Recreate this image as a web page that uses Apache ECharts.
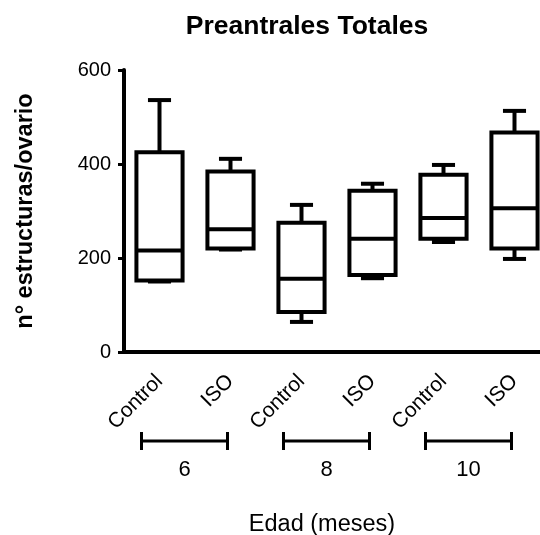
<!DOCTYPE html>
<html>
<head>
<meta charset="utf-8">
<script src="https://cdn.jsdelivr.net/npm/echarts@6/dist/echarts.min.js"></script>
<style>
html,body{margin:0;padding:0;background:#fff;}
#c{width:540px;height:535px;}
</style>
</head>
<body>
<div id="c"></div>
<script>
// ---- data ----
var categories = ['Control', 'ISO', 'Control', 'ISO', 'Control', 'ISO'];
// [min, Q1, median, Q3, max]
var control6  = [150, 152, 216, 425, 536];
var iso6      = [218, 220, 261, 384, 411];
var control8  = [64, 85, 156, 275, 313];
var iso8      = [157, 164, 241, 343, 358];
var control10 = [234, 241, 285, 377, 398];
var iso10     = [198, 220, 306, 467, 513];
var groupLabels = ['6', '8', '10'];
var groupStart = [0, 2, 4];
var groupEnd = [1, 3, 5];
var yTicks = [0, 200, 400, 600];

var boxData = [control6, iso6, control8, iso8, control10, iso10].map(function (d, i) {
  return [i].concat(d);
});
var groupData = groupLabels.map(function (l, i) { return [groupStart[i], groupEnd[i], l]; });

var FONT = '"Liberation Sans", Arial, sans-serif';
var chart = echarts.init(document.getElementById('c'), null, {renderer: 'canvas'});

function renderBox(params, api) {
  var idx = api.value(0);
  var lo = api.coord([idx, api.value(1)]);
  var q1 = api.coord([idx, api.value(2)]);
  var med = api.coord([idx, api.value(3)]);
  var q3 = api.coord([idx, api.value(4)]);
  var hi = api.coord([idx, api.value(5)]);
  var band = api.size([1, 0])[0];
  var hw = band * 0.325;
  var cw = hw * 0.5;
  var x = med[0];
  var st = {stroke: '#000', lineWidth: 4, fill: null};
  return {
    type: 'group',
    children: [
      {type: 'line', shape: {x1: x, y1: q3[1], x2: x, y2: hi[1]}, style: st},
      {type: 'line', shape: {x1: x, y1: q1[1], x2: x, y2: lo[1]}, style: st},
      {type: 'line', shape: {x1: x - cw, y1: hi[1], x2: x + cw, y2: hi[1]}, style: st},
      {type: 'line', shape: {x1: x - cw, y1: lo[1], x2: x + cw, y2: lo[1]}, style: st},
      {type: 'rect', shape: {x: x - hw, y: q3[1], width: 2 * hw, height: q1[1] - q3[1]}, style: {stroke: '#000', lineWidth: 4, fill: '#fff'}},
      {type: 'line', shape: {x1: x - hw, y1: med[1], x2: x + hw, y2: med[1]}, style: st}
    ]
  };
}

function renderGroup(params, api) {
  var a = api.coord([api.value(0), 0]);
  var b = api.coord([api.value(1), 0]);
  var x1 = a[0] - 18, x2 = b[0] - 3;
  var y = a[1] + 89;
  var st = {stroke: '#000', lineWidth: 3};
  return {
    type: 'group',
    children: [
      {type: 'line', shape: {x1: x1, y1: y, x2: x2, y2: y}, style: st},
      {type: 'line', shape: {x1: x1, y1: y - 9, x2: x1, y2: y + 9}, style: st},
      {type: 'line', shape: {x1: x2, y1: y - 9, x2: x2, y2: y + 9}, style: st},
      {type: 'text', style: {text: api.value(2), x: (x1 + x2) / 2, y: y + 29, align: 'center', verticalAlign: 'middle', font: '22px ' + FONT, fill: '#000'}}
    ]
  };
}

chart.setOption({
  animation: false,
  backgroundColor: '#fff',
  title: [
    {text: 'Preantrales Totales', left: 302, top: 8, textAlign: 'center',
     textStyle: {fontFamily: FONT, fontWeight: 'bold', fontSize: 26.5, color: '#000'}},
    {text: 'Edad (meses)', left: 317, top: 508, textAlign: 'center',
     textStyle: {fontFamily: FONT, fontWeight: 'normal', fontSize: 23.5, color: '#000'}}
  ],
  grid: {left: 124, top: 70, width: 426, height: 282, containLabel: false, outerBoundsMode: 'none'},
  xAxis: {
    type: 'category',
    data: categories,
    axisLine: {lineStyle: {color: '#000', width: 4}},
    axisTick: {alignWithLabel: true, length: 10, lineStyle: {color: '#000', width: 4}},
    axisLabel: {rotate: 45, margin: 26, fontSize: 21, fontFamily: FONT, color: '#000', interval: 0},
    splitLine: {show: false}
  },
  yAxis: {
    type: 'value',
    min: 0, max: 600, interval: 200,
    name: 'n° estructuras/ovario',
    nameLocation: 'middle',
    nameGap: 86,
    nameRotate: 90,
    nameTextStyle: {fontFamily: FONT, fontWeight: 'bold', fontSize: 23.5, color: '#000'},
    axisLine: {show: true, lineStyle: {color: '#000', width: 4}},
    axisTick: {show: true, length: 6, lineStyle: {color: '#000', width: 3}},
    axisLabel: {fontSize: 20, fontFamily: FONT, color: '#000', margin: 13,
      formatter: function (v) { return yTicks.indexOf(v) >= 0 ? String(v) : ''; }},
    splitLine: {show: false}
  },
  series: [
    {type: 'custom', renderItem: renderBox, data: boxData, clip: false,
     encode: {x: 0, y: [1, 2, 3, 4, 5]}},
    {type: 'custom', renderItem: renderGroup, data: groupData, clip: false,
     encode: {x: 0, y: -1}}
  ]
});
</script>
</body>
</html>
